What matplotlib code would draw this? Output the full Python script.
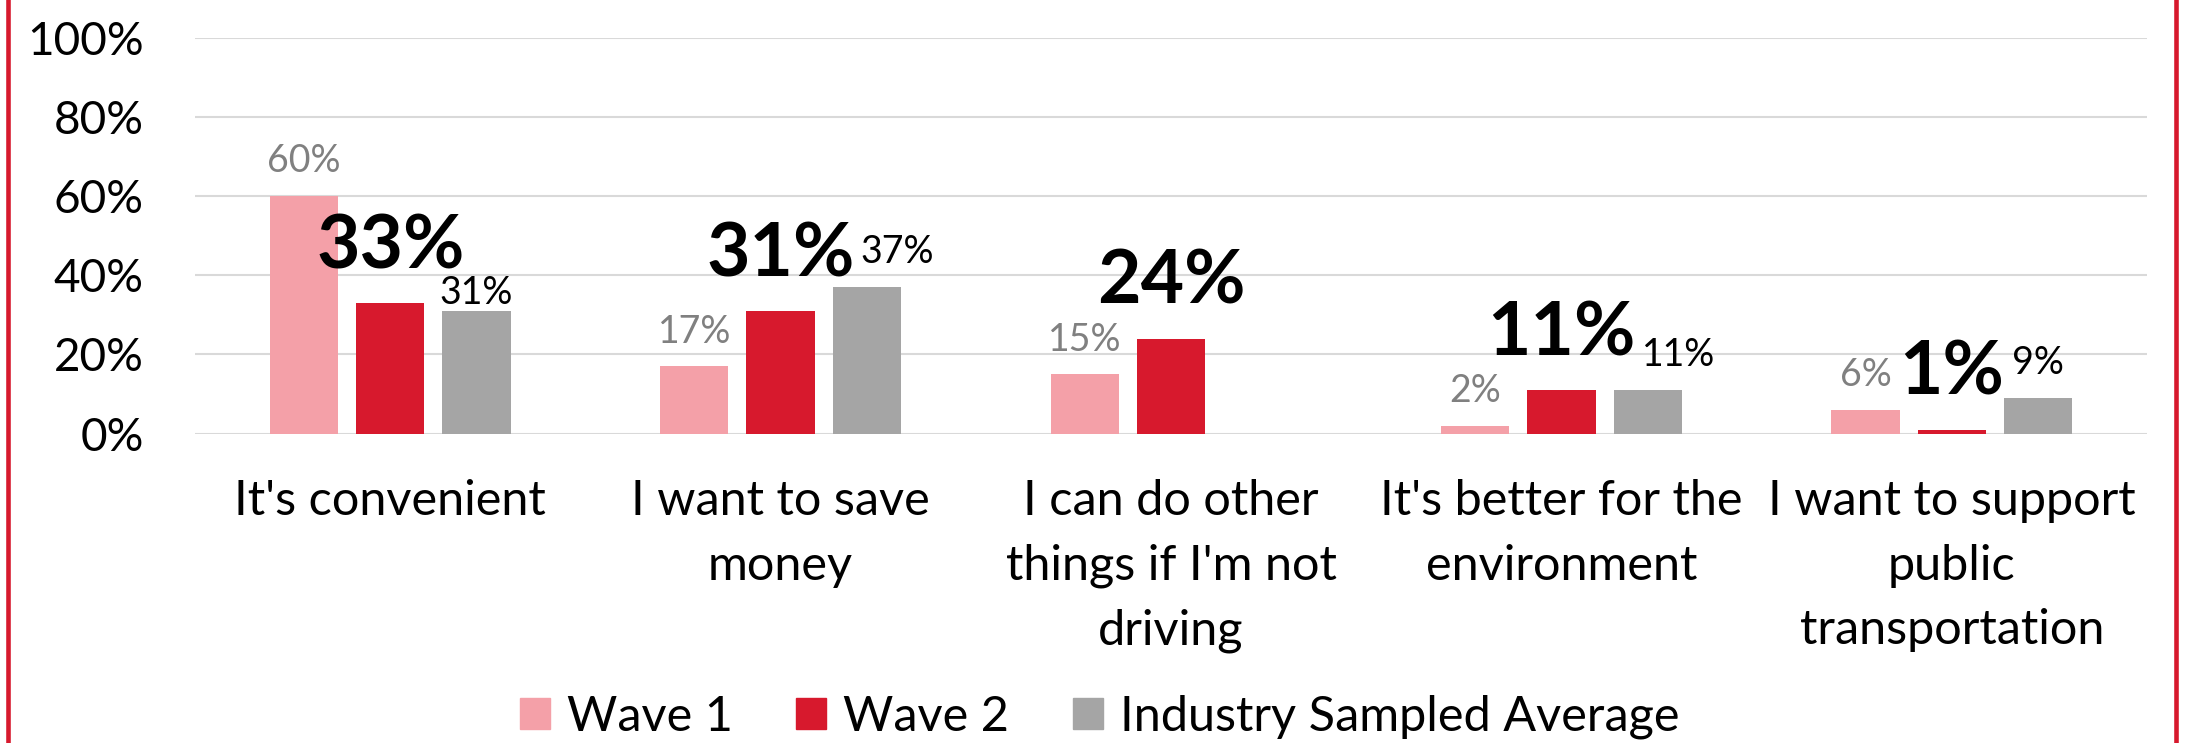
import matplotlib as mpl
import matplotlib.pyplot as plt
import numpy as np
from matplotlib.patches import Patch
from matplotlib.lines import Line2D

mpl.rcParams['font.family'] = ['Lato', 'DejaVu Sans']

categories = ["It's convenient", "I want to save\nmoney", "I can do other\nthings if I'm not\ndriving",
              "It's better for the\nenvironment", "I want to support\npublic\ntransportation"]
series_names = ['Wave 1', 'Wave 2', 'Industry Sampled Average']
wave1 = [60, 17, 15, 2, 6]
wave2 = [33, 31, 24, 11, 1]
industry = [31, 37, np.nan, 11, 9]
y_ticks = [0, 20, 40, 60, 80, 100]

PINK = '#F4A0A8'
RED = '#D7192D'
GREY = '#A5A5A5'


def main():
    fig = plt.figure(figsize=(21.86, 7.43), dpi=100)
    ax = fig.add_axes([0.0892, 0.4164, 0.893, 0.533])

    x = np.arange(len(categories))
    offset = 0.221
    width = 0.175
    ax.bar(x - offset, wave1, width, color=PINK, zorder=3)
    ax.bar(x, wave2, width, color=RED, zorder=3)
    ax.bar(x + offset, industry, width, color=GREY, zorder=3)

    # data labels, offsets in points from the bar top to the text baseline
    for xi, v in zip(x, wave1):
        ax.annotate(f'{v}%', (xi - offset, v), xytext=(0, 17), textcoords='offset points',
                    ha='center', va='baseline', fontsize=27, color='#808080', zorder=5)
    for xi, v in zip(x, wave2):
        ax.annotate(f'{v}%', (xi, v), xytext=(0, 25), textcoords='offset points',
                    ha='center', va='baseline', fontsize=54, fontweight='bold', color='black', zorder=5)
    # some industry labels were nudged by hand in the original
    nudges = {0: (0, 5), 1: (22, 17), 3: (22, 17)}
    for i, (xi, v) in enumerate(zip(x, industry)):
        if np.isnan(v):
            continue
        dx, dy = nudges.get(i, (0, 17))
        ax.annotate(f'{v:.0f}%', (xi + offset, v), xytext=(dx, dy), textcoords='offset points',
                    ha='center', va='baseline', fontsize=27, color='black', zorder=5)

    ax.set_xlim(-0.5, len(categories) - 0.5)
    ax.set_ylim(0, 100)
    ax.set_yticks(y_ticks)
    ax.set_yticklabels([f'{t}%' for t in y_ticks], fontsize=33)
    ax.set_xticks(x)
    ax.set_xticklabels(categories, fontsize=35, linespacing=1.57, va='top')
    ax.tick_params(axis='y', length=0, pad=37)
    ax.tick_params(axis='x', length=0, pad=33)
    ax.yaxis.grid(True, color='#D9D9D9', linewidth=1.5, zorder=0)
    ax.set_axisbelow(True)
    for s in ax.spines.values():
        s.set_visible(False)

    handles = [Patch(color=PINK), Patch(color=RED), Patch(color=GREY)]
    fig.legend(handles, series_names, loc='center', bbox_to_anchor=(0.503, 0.035), ncol=3,
               frameon=False, fontsize=35, handlelength=0.62, handleheight=0.62,
               handletextpad=0.35, columnspacing=1.3)

    # red frame edges from the original slide
    for xf in [8 / 2186, 2175.5 / 2186]:
        fig.add_artist(Line2D([xf, xf], [0, 1], transform=fig.transFigure, color=RED, linewidth=3.3))

    fig.savefig('out.png', dpi=100)


if __name__ == '__main__':
    main()
